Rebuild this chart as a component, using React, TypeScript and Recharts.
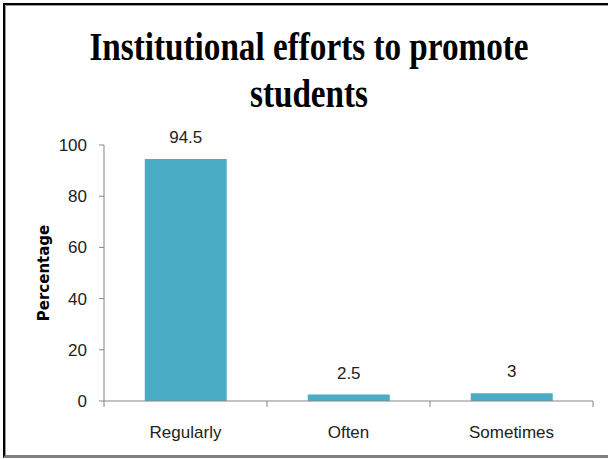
import React from "react";
import { BarChart, Bar, XAxis, YAxis, LabelList } from "recharts";

const categories = ["Regularly", "Often", "Sometimes"];
const percentages = [94.5, 2.5, 3];
const yTicks = [0, 20, 40, 60, 80, 100];
const titleLines = ["Institutional efforts to promote", "students"];

const data = categories.map((name, i) => ({ name, value: percentages[i] }));

const FONT = "'Liberation Sans', Arial, sans-serif";
const TITLE_FONT = "'Liberation Serif', 'Times New Roman', serif";

// category label at band center, tick marks at band edges (like Excel)
function CategoryTick(props: any) {
  const { x, y, payload, width, visibleTicksCount, index } = props;
  const band = width / visibleTicksCount;
  const axisY = y - 20 - 6;
  return (
    <g>
      <line x1={x - band / 2} x2={x - band / 2} y1={axisY} y2={axisY + 6} stroke="#868686" />
      {index === visibleTicksCount - 1 && (
        <line x1={x + band / 2} x2={x + band / 2} y1={axisY} y2={axisY + 6} stroke="#868686" />
      )}
      <text x={x} y={axisY + 37} textAnchor="middle" fontSize={17} fontFamily={FONT} fill="#222">
        {payload.value}
      </text>
    </g>
  );
}

export default function App() {
  return (
    <div style={{ position: "fixed", left: 0, top: 0, width: 608, height: 459, background: "#fff", overflow: "hidden" }}>
      <div
        style={{
          position: "absolute",
          left: 3,
          top: 3,
          width: 620,
          height: 450,
          borderLeft: "2px solid #000",
          borderTop: "2px solid #000",
          borderBottom: "3px solid #7f7f7f",
          boxShadow: "inset 1px 1px 0 #9a9a9a",
        }}
      />
      <svg width={608} height={459} style={{ position: "absolute", left: 0, top: 0 }}>
        {/* the reference title is a horizontally squeezed Times bold */}
        <g transform="translate(309,60) scale(0.83,1)">
          <text x={0} y={0} textAnchor="middle" fontFamily={TITLE_FONT} fontWeight="bold" fontSize={40} fill="#000">
            {titleLines[0]}
          </text>
        </g>
        <g transform="translate(309,107) scale(0.83,1)">
          <text x={0} y={0} textAnchor="middle" fontFamily={TITLE_FONT} fontWeight="bold" fontSize={40} fill="#000">
            {titleLines[1]}
          </text>
        </g>
      </svg>
      <div style={{ position: "absolute", left: 0, top: 0 }}>
        <BarChart
          width={608}
          height={459}
          data={data}
          margin={{ top: 145, right: 15, left: 44, bottom: 28 }}
          barCategoryGap="25%"
        >
          <XAxis
            dataKey="name"
            stroke="#868686"
            tickLine={false}
            tickSize={6}
            tickMargin={20}
            height={30}
            interval={0}
            tick={<CategoryTick />}
          />
          <YAxis
            width={60}
            domain={[0, 100]}
            ticks={yTicks}
            stroke="#868686"
            tickSize={5}
            tickMargin={12}
            tick={{ fill: "#222", fontSize: 17, fontFamily: FONT }}
            label={{
              value: "Percentage",
              angle: -90,
              position: "insideLeft",
              offset: 0,
              style: { textAnchor: "middle", fontFamily: "'DejaVu Sans', sans-serif", fontWeight: "bold", fontSize: 15, fill: "#000" },
            }}
          />
          <Bar dataKey="value" fill="#4BACC6" isAnimationActive={false}>
            <LabelList dataKey="value" position="top" offset={16} fill="#222" fontSize={17} fontFamily={FONT} />
          </Bar>
        </BarChart>
      </div>
    </div>
  );
}
